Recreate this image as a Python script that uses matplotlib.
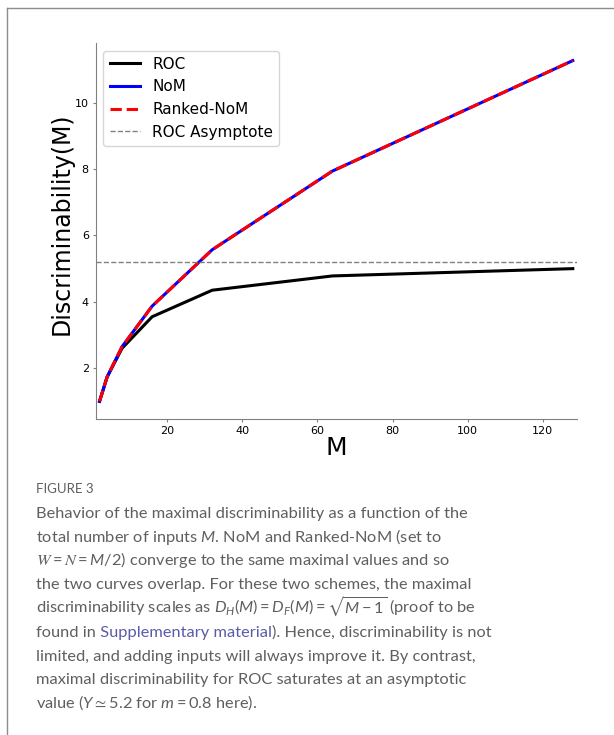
import matplotlib
matplotlib.use("Agg")
import matplotlib.pyplot as plt
from matplotlib.lines import Line2D

# data
M = [2, 4, 8, 16, 32, 64, 128]
roc = [1.0, 1.73, 2.60, 3.55, 4.35, 4.78, 5.0]
nom = [1.0, 1.73, 2.65, 3.87, 5.57, 7.94, 11.27]
ranked_nom = [1.0, 1.73, 2.65, 3.87, 5.57, 7.94, 11.27]
roc_asymptote = 5.2

plt.rcParams['mathtext.fontset'] = 'custom'
plt.rcParams['mathtext.rm'] = 'Lato'
plt.rcParams['mathtext.it'] = 'Lato:italic'
plt.rcParams['mathtext.cal'] = 'STIXGeneral:italic'
plt.rcParams['mathtext.fallback'] = 'stix'

fig = plt.figure(figsize=(6.14, 7.35), dpi=100)
ax = fig.add_axes([0.156, 0.430, 0.783, 0.5115])

ax.plot(M, roc, color='black', lw=2.2, label='ROC')
ax.plot(M, nom, color='blue', lw=2.2, label='NoM')
ax.plot(M, ranked_nom, color='red', lw=2.2, ls='--', label='Ranked-NoM')
ax.axhline(roc_asymptote, color='grey', lw=1, ls='--', label='ROC Asymptote')

ax.set_xlim(1, 129)
ax.set_ylim(0.47, 11.8)
ax.set_xticks([20, 40, 60, 80, 100, 120])
ax.set_yticks([2, 4, 6, 8, 10])
ax.tick_params(labelsize=8, color='0.5', length=2.5, pad=2.5)
for s in ['top', 'right']:
    ax.spines[s].set_visible(False)
for s in ['left', 'bottom']:
    ax.spines[s].set_color('0.5')
ax.set_xlabel('M', fontsize=18, labelpad=0)
ax.set_ylabel('Discriminability(M)', fontsize=17)
ax.yaxis.set_label_coords(-0.047, 0.519)
ax.legend(loc='upper left', fontsize=11, bbox_to_anchor=(0.0, 1.0),
          borderaxespad=0.5, handlelength=2.0, labelspacing=0.5)

# page frame (left and top edges)
fig.add_artist(Line2D([7/614, 7/614], [0, 1 - 8/735], color='0.55', lw=1))
fig.add_artist(Line2D([7/614, 1], [1 - 8/735, 1 - 8/735], color='0.55', lw=1))

gray = '#5f5f5f'
link = '#5a5aa8'
x0 = 36 / 614
fs = 11.8

def ypos(px):
    return 1 - px / 735

fig.text(x0, ypos(493), 'FIGURE 3', fontsize=9.5, color=gray,
         family='Lato', va='baseline')

lines = [
    'Behavior of the maximal discriminability as a function of the',
    'total number of inputs $M$. NoM and Ranked-NoM (set to',
    r'$\mathcal{W} = \mathcal{N} = M/2$) converge to the same maximal values and so',
    'the two curves overlap. For these two schemes, the maximal',
    r'discriminability scales as $D_H(M) = D_F(M) = \sqrt{M-1}$ (proof to be',
    None,
    'limited, and adding inputs will always improve it. By contrast,',
    'maximal discriminability for ROC saturates at an asymptotic',
    r'value ($Y \simeq 5.2$ for $m = 0.8$ here).',
]
base = 518
step = 23.75
for i, line in enumerate(lines):
    y = ypos(base + i * step)
    if line is not None:
        fig.text(x0, y, line, fontsize=fs, color=gray, family='Lato',
                 va='baseline')
    else:
        t1 = fig.text(x0, y, 'found in', fontsize=fs, color=gray,
                      family='Lato', va='baseline')
        t2 = fig.text(0, 0, ' Supplementary material', fontsize=fs,
                      color=link, family='Lato', va='baseline')
        t3 = fig.text(0, 0, '). Hence, discriminability is not', fontsize=fs,
                      color=gray, family='Lato', va='baseline')
        fig.canvas.draw()
        r = fig.canvas.get_renderer()
        bb1 = t1.get_window_extent(r)
        t2.set_position((bb1.x1 / fig.bbox.width, y))
        bb2 = t2.get_window_extent(r)
        t3.set_position((bb2.x1 / fig.bbox.width, y))

fig.savefig('out.png', dpi=100)
